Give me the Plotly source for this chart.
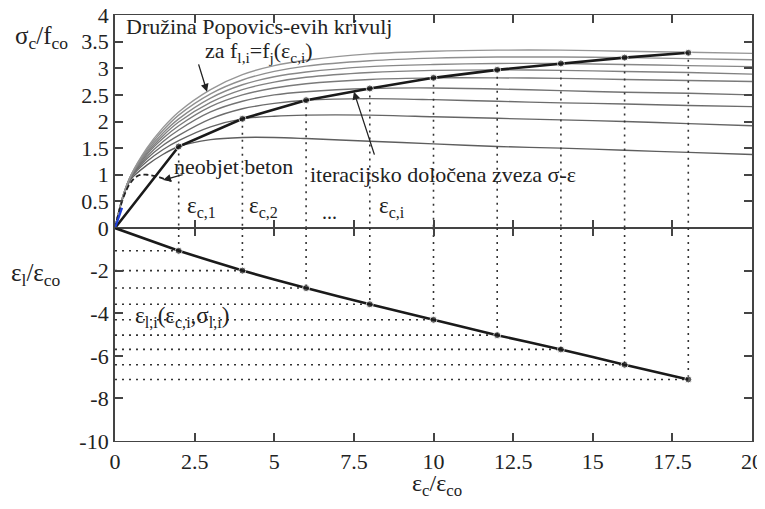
import plotly.graph_objects as go
from plotly.subplots import make_subplots

# ---------------- data ----------------
eps_grid = [0, 0.25, 0.5, 1, 1.5, 2, 3, 4, 5, 6, 8, 10, 12, 14, 16, 18, 20]
popovics_1 = [0, 0.57, 0.92, 1.18, 1.38, 1.53, 1.66, 1.70, 1.70, 1.68, 1.63, 1.58, 1.53, 1.50, 1.46, 1.42, 1.38]
popovics_2 = [0, 0.58, 0.95, 1.25, 1.47, 1.64, 1.90, 2.05, 2.10, 2.12, 2.12, 2.09, 2.06, 2.03, 2.00, 1.96, 1.92]
popovics_3 = [0, 0.58, 0.96, 1.30, 1.55, 1.74, 2.05, 2.24, 2.34, 2.40, 2.43, 2.41, 2.38, 2.35, 2.33, 2.30, 2.28]
popovics_4 = [0, 0.59, 0.97, 1.34, 1.62, 1.84, 2.18, 2.38, 2.50, 2.56, 2.62, 2.63, 2.61, 2.58, 2.55, 2.53, 2.50]
popovics_5 = [0, 0.59, 0.97, 1.38, 1.68, 1.92, 2.28, 2.50, 2.63, 2.71, 2.79, 2.82, 2.82, 2.81, 2.79, 2.77, 2.75]
popovics_6 = [0, 0.59, 0.98, 1.41, 1.73, 1.99, 2.36, 2.60, 2.74, 2.83, 2.92, 2.96, 2.97, 2.96, 2.94, 2.92, 2.89]
popovics_7 = [0, 0.60, 0.98, 1.44, 1.78, 2.05, 2.44, 2.69, 2.84, 2.93, 3.03, 3.07, 3.09, 3.09, 3.07, 3.05, 3.03]
popovics_8 = [0, 0.60, 0.99, 1.47, 1.83, 2.12, 2.52, 2.78, 2.94, 3.04, 3.14, 3.19, 3.21, 3.21, 3.20, 3.18, 3.16]
popovics_9 = [0, 0.60, 0.99, 1.50, 1.88, 2.18, 2.60, 2.88, 3.05, 3.15, 3.27, 3.32, 3.34, 3.34, 3.32, 3.30, 3.28]
popovics_curves = [popovics_1, popovics_2, popovics_3, popovics_4, popovics_5,
                   popovics_6, popovics_7, popovics_8, popovics_9]

unconfined_eps = [0, 0.25, 0.5, 0.75, 1.0, 1.3, 1.6, 1.85]
unconfined_sig = [0, 0.55, 0.86, 0.99, 1.0, 0.97, 0.91, 0.87]

elastic_eps = [0, 0.22]
elastic_sig = [0, 0.38]

iter_eps = [2, 4, 6, 8, 10, 12, 14, 16, 18]
iter_sig = [1.53, 2.05, 2.40, 2.62, 2.82, 2.97, 3.09, 3.20, 3.29]
iter_epsl = [-1.07, -2.00, -2.82, -3.58, -4.31, -5.03, -5.70, -6.42, -7.11]

x_ticks = [0, 2.5, 5, 7.5, 10, 12.5, 15, 17.5, 20]
x_ticklabels = ["0", "2.5", "5", "7.5", "10", "12.5", "15", "17.5", "20"]
y1_ticks = [0, 0.5, 1, 1.5, 2, 2.5, 3, 3.5, 4]
y1_ticklabels = ["0", "0.5", "1", "1.5", "2", "2.5", "3", "3.5", "4"]
y2_ticks = [-10, -8, -6, -4, -2, 0]
y2_ticklabels = ["-10", "-8", "-6", "-4", "-2", ""]

# ---------------- figure ----------------
FONT = "Liberation Serif"
fig = make_subplots(rows=2, cols=1, shared_xaxes=True, vertical_spacing=0)

grays = ["#5e5e5e", "#656565", "#6c6c6c", "#737373", "#7a7a7a",
         "#818181", "#888888", "#8f8f8f", "#969696"]
for c, col in zip(popovics_curves, grays):
    fig.add_trace(go.Scatter(x=eps_grid, y=c, mode="lines",
                             line=dict(color=col, width=1.4, shape="spline", smoothing=0.8),
                             hoverinfo="skip", showlegend=False), row=1, col=1)

vx, vy_top, vy_bot, hx, hy = [], [], [], [], []
for e, s, l in zip(iter_eps, iter_sig, iter_epsl):
    vx += [e, e, None]
    vy_top += [s, 0, None]
    vy_bot += [0, l, None]
    hx += [0, e, None]
    hy += [l, l, None]
dot_line = dict(color="#333333", width=1.6, dash="2px,5px")
fig.add_trace(go.Scatter(x=vx, y=vy_top, mode="lines", line=dot_line, showlegend=False), row=1, col=1)
fig.add_trace(go.Scatter(x=vx, y=vy_bot, mode="lines", line=dot_line, showlegend=False), row=2, col=1)
fig.add_trace(go.Scatter(x=hx, y=hy, mode="lines", line=dot_line, showlegend=False), row=2, col=1)

fig.add_trace(go.Scatter(x=unconfined_eps, y=unconfined_sig, mode="lines",
                         line=dict(color="#222222", width=1.8, dash="5px,3px", shape="spline"),
                         showlegend=False), row=1, col=1)

fig.add_trace(go.Scatter(x=[0] + iter_eps, y=[0] + iter_sig, mode="lines+markers",
                         line=dict(color="#1a1a1a", width=2.6),
                         marker=dict(size=[0] + [7] * len(iter_eps), color="#1a1a1a"),
                         showlegend=False), row=1, col=1)
fig.add_trace(go.Scatter(x=elastic_eps, y=elastic_sig, mode="lines",
                         line=dict(color="#1f3fd8", width=2.2), showlegend=False), row=1, col=1)

fig.add_trace(go.Scatter(x=[0] + iter_eps, y=[0] + iter_epsl, mode="lines+markers",
                         line=dict(color="#1a1a1a", width=2.6, shape="spline", smoothing=0.3),
                         marker=dict(size=[0] + [7] * len(iter_eps), color="#1a1a1a"),
                         showlegend=False), row=2, col=1)

axis_common = dict(range=[0, 20], showline=True, linecolor="#444444", linewidth=1.3,
                   mirror="ticks", ticks="inside", ticklen=8, tickwidth=1.5, tickcolor="#444444",
                   showgrid=False, zeroline=False, tickvals=x_ticks, ticktext=x_ticklabels,
                   automargin=False, ticklabeloverflow="allow",
                   tickfont=dict(family=FONT, size=22, color="#222222"))
fig.update_xaxes(**axis_common)
fig.update_xaxes(showticklabels=False, row=1, col=1)
fig.update_xaxes(showticklabels=True, row=2, col=1)

yaxis_common = dict(showline=True, linecolor="#444444", linewidth=1.8, mirror="ticks",
                    ticks="inside", ticklen=8, tickwidth=1.5, tickcolor="#444444",
                    showgrid=False, zeroline=False, automargin=False, ticklabeloverflow="allow",
                    tickfont=dict(family=FONT, size=22, color="#222222"))
fig.update_yaxes(range=[0, 4], tickvals=y1_ticks, ticktext=y1_ticklabels, row=1, col=1, **yaxis_common)
fig.update_yaxes(range=[-10, 0], tickvals=y2_ticks, ticktext=y2_ticklabels, row=2, col=1, **yaxis_common)

ann = []
def A(text, x, y, xref="x", yref="y", size=20, xanchor="left", yanchor="middle"):
    ann.append(dict(text=text, x=x, y=y, xref=xref, yref=yref, showarrow=False,
                    xanchor=xanchor, yanchor=yanchor,
                    font=dict(family=FONT, size=size, color="#222222")))

A("Družina Popovics-evih krivulj", 0.28, 3.78, size=22)
A("za f<sub>l,i</sub>=f<sub>j</sub>(ε<sub>c,i</sub>)", 2.76, 3.30, size=22)
A("neobjet beton", 1.79, 1.16, size=22)
A("ε<sub>c,1</sub>", 2.2, 0.40, size=23)
A("ε<sub>c,2</sub>", 4.14, 0.40, size=23)
A("...", 6.72, 0.30, size=20, xanchor="center")
A("ε<sub>c,i</sub>", 8.23, 0.40, size=23)
A("iteracijsko določena zveza σ-ε", 6.06, 1.01, size=22)
A("ε<sub>l,i</sub>(ε<sub>c,i</sub>,σ<sub>l,i</sub>)", 0.57, -4.19, xref="x2", yref="y2", size=23)

A("σ<sub>c</sub>/f<sub>co</sub>", -0.1146, 0.948, xref="paper", yref="paper", size=25, xanchor="center")
A("ε<sub>l</sub>/ε<sub>co</sub>", -0.124, 0.392, xref="paper", yref="paper", size=25, xanchor="center")
A("ε<sub>c</sub>/ε<sub>co</sub>", 0.505, -0.104, xref="paper", yref="paper", size=24, xanchor="center")

def arrow(x0, y0, x1, y1):
    ann.append(dict(x=x1, y=y1, ax=x0, ay=y0, xref="x", yref="y", axref="x", ayref="y",
                    showarrow=True, arrowhead=2, arrowsize=1.2, arrowwidth=1.3,
                    arrowcolor="#222222", text=""))

arrow(2.61, 3.10, 2.89, 2.56)
arrow(2.17, 1.01, 1.51, 0.90)
arrow(8.16, 1.35, 7.50, 2.56)

# the page body adds an 8px offset; a slightly smaller figure keeps the page free of
# scrollbars, and margins place the plot area at 115..752 x 15..441 of the window
fig.update_layout(width=757, height=489, margin=dict(l=107, r=13, t=7, b=56),
                  paper_bgcolor="white", plot_bgcolor="white", showlegend=False,
                  font=dict(family=FONT), annotations=ann)

fig.write_html("out.html")
